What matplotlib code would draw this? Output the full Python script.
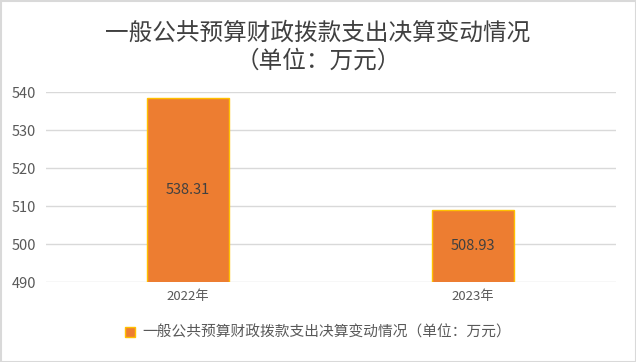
import matplotlib
matplotlib.use('Agg')
from matplotlib import pyplot as plt
from matplotlib.patches import Rectangle

plt.rcParams['font.family'] = ['Noto Sans CJK SC', 'DejaVu Sans']

years = ['2022年', '2023年']
values = [538.31, 508.93]
y_ticks = [490, 500, 510, 520, 530, 540]
title = '一般公共预算财政拨款支出决算变动情况\n（单位：万元）'
series_name = '一般公共预算财政拨款支出决算变动情况（单位：万元）'

fig = plt.figure(figsize=(6.36, 3.62), dpi=100)
ax = fig.add_axes([45.5 / 636, 1 - 282 / 362, 570 / 636, 190 / 362])

x = range(len(years))
bars = ax.bar(x, values, width=0.29, color='#ED7D31', edgecolor='#FFC000', linewidth=1, zorder=3)
for b, v in zip(bars, values):
    ax.text(b.get_x() + b.get_width() / 2, (490 + v) / 2, '%.2f' % v,
            ha='center', va='center', fontsize=10.5, color='#404040', zorder=4)

ax.set_xlim(-0.5, 1.5)
ax.set_ylim(490, 540)
ax.set_xticks(list(x))
ax.set_xticklabels(years, fontsize=9.5, color='#595959')
ax.set_yticks(y_ticks)
ax.set_yticklabels([str(t) for t in y_ticks], fontsize=10.5, color='#595959')
ax.tick_params(length=0, pad=6)
ax.tick_params(axis='y', pad=7)
ax.grid(axis='y', color='#D9D9D9', linewidth=1, zorder=0)
for s in ax.spines.values():
    s.set_visible(False)

fig.text(0.5, 1 - 47 / 362, title, ha='center', va='center', fontsize=17,
         color='#404040', linespacing=1.3)

fig.legend([Rectangle((0, 0), 1, 1, facecolor='#ED7D31', edgecolor='#FFC000')], [series_name],
           loc='center', bbox_to_anchor=(0.5, 1 - 333 / 362), frameon=False,
           fontsize=10.6, labelcolor='#595959', handlelength=0.7, handleheight=0.7, handletextpad=0.5)

fig.patches.append(Rectangle((0.5 / 636, 0.5 / 362), 1 - 1 / 636, 1 - 1 / 362, transform=fig.transFigure,
                             fill=False, edgecolor='#D9D9D9', linewidth=1.5))

plt.savefig('out.png', dpi=100)
